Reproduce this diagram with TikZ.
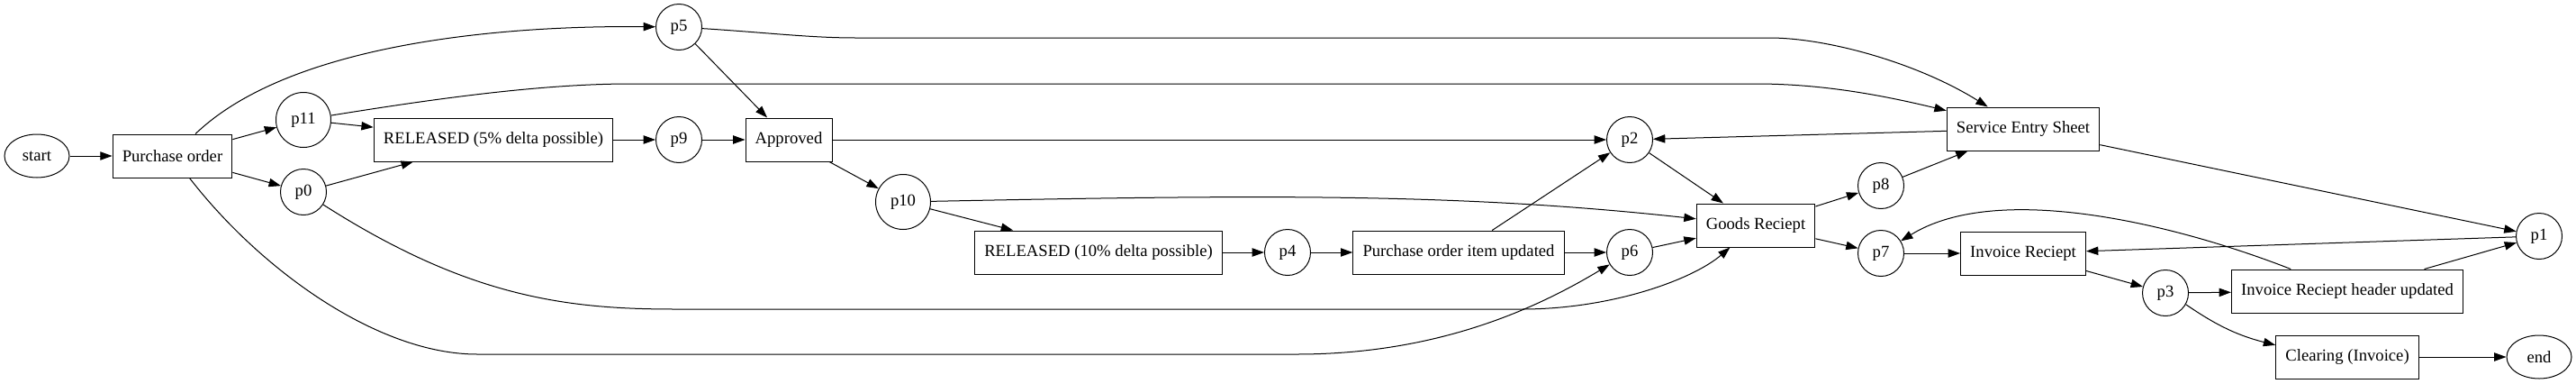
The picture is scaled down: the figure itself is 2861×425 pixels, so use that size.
\documentclass[tikz,border=0pt]{standalone}
\usepackage{fontspec}
\setmainfont{Liberation Serif}
\usetikzlibrary{positioning,shapes.geometric,arrows.meta}

\begin{document}
\begin{tikzpicture}[x=0.75pt,y=-0.75pt,font=\fontsize{14pt}{16pt}\selectfont]
	\tikzstyle{activity} = [rectangle, minimum height=36pt, inner xsep=8pt, text centered, draw=black, line width=0.75pt]
	\tikzstyle{place} = [circle, minimum size=38.25pt, inner sep=0pt, draw=black, line width=0.75pt]
	\tikzstyle{widePlace} = [place, minimum size=45.75pt]
	\tikzstyle{terminal} = [ellipse, minimum width=54pt, minimum height=36pt, inner sep=0pt, draw=black, line width=0.75pt]
	\tikzstyle{flow} = [line width=0.75pt,->,>={Triangle[length=10pt,width=7pt]}]
	
	\useasboundingbox (0,0) rectangle (2861,425);
	
	\node (startEvent) [terminal] at (41,173) {start};
	\node (purchaseOrder) [activity] at (191.5,173) {Purchase order};
	\node (p11) [widePlace] at (337,133) {p11};
	\node (p0) [place] at (337,213) {p0};
	\node (released5) [activity] at (548,155) {RELEASED (5\% delta possible)};
	\node (p5) [place] at (754,30) {p5};
	\node (p9) [place] at (754,155) {p9};
	\node (approved) [activity] at (876,155) {Approved};
	\node (p10) [widePlace] at (1003,224) {p10};
	\node (released10) [activity] at (1220,280) {RELEASED (10\% delta possible)};
	\node (p4) [place] at (1430,280) {p4};
	\node (poItemUpdated) [activity] at (1620,280) {Purchase order item updated};
	\node (p2) [place] at (1810,155) {p2};
	\node (p6) [place] at (1810,280) {p6};
	\node (goodsReciept) [activity] at (1950,250) {Goods Reciept};
	\node (p8) [place] at (2089,206) {p8};
	\node (p7) [place] at (2089,281) {p7};
	\node (serviceEntrySheet) [activity] at (2247,143) {Service Entry Sheet};
	\node (invoiceReciept) [activity] at (2247,281) {Invoice Reciept};
	\node (p3) [place] at (2405,325) {p3};
	\node (invoiceHeaderUpdated) [activity] at (2607,323) {Invoice Reciept header updated};
	\node (clearingInvoice) [activity] at (2607,396) {Clearing (Invoice)};
	\node (p1) [place] at (2820,262) {p1};
	\node (endEvent) [terminal] at (2820,396) {end};
	
	\coordinate (topArcA) at (950,42);
	\coordinate (topArcB) at (1965,42);
	\coordinate (upperArcA) at (700,93);
	\coordinate (upperArcB) at (1950,93);
	\coordinate (midArcA) at (750,343);
	\coordinate (midArcB) at (1690,343);
	\coordinate (lowArcA) at (530,393);
	\coordinate (lowArcB) at (1440,393);
	
	\draw [flow] (startEvent) -- (purchaseOrder);
	\draw [flow] (purchaseOrder) -- (p11);
	\draw [flow] (purchaseOrder) -- (p0);
	\draw [flow] (purchaseOrder) .. controls (320,50) and (550,28) .. (p5);
	\draw [flow] (purchaseOrder) .. controls (290,300) and (420,393) .. (lowArcA) -- (lowArcB) .. controls (1600,393) and (1710,340) .. (p6);
	
	\draw [flow] (p11) -- (released5);
	\draw [flow] (p11) .. controls (480,110) and (600,93) .. (upperArcA) -- (upperArcB) .. controls (2030,93) and (2100,108) .. (serviceEntrySheet);
	\draw [flow] (p0) -- (released5);
	\draw [flow] (p0) .. controls (520,330) and (630,343) .. (midArcA) -- (midArcB) .. controls (1790,343) and (1880,310) .. (goodsReciept);
	
	\draw [flow] (released5) -- (p9);
	\draw [flow] (p9) -- (approved);
	\draw [flow] (p5) -- (approved);
	\draw [flow] (p5) .. controls (850,36) and (900,42) .. (topArcA) -- (topArcB) .. controls (2030,42) and (2130,70) .. (serviceEntrySheet);
	
	\draw [flow] (approved) -- (p2);
	\draw [flow] (approved) -- (p10);
	\draw [flow] (p10) -- (released10);
	\draw [flow] (p10) .. controls (1400,216) and (1620,214) .. (goodsReciept);
	\draw [flow] (released10) -- (p4);
	\draw [flow] (p4) -- (poItemUpdated);
	\draw [flow] (poItemUpdated) -- (p2);
	\draw [flow] (poItemUpdated) -- (p6);
	
	\draw [flow] (p2) -- (goodsReciept);
	\draw [flow] (p6) -- (goodsReciept);
	\draw [flow] (goodsReciept) -- (p8);
	\draw [flow] (goodsReciept) -- (p7);
	\draw [flow] (p8) -- (serviceEntrySheet);
	\draw [flow] (serviceEntrySheet) -- (p2);
	\draw [flow] (serviceEntrySheet) -- (p1);
	
	\draw [flow] (p7) -- (invoiceReciept);
	\draw [flow] (p1) -- (invoiceReciept);
	\draw [flow] (invoiceReciept) -- (p3);
	\draw [flow] (p3) -- (invoiceHeaderUpdated);
	\draw [flow] (p3) to[bend right=10] (clearingInvoice);
	\draw [flow] (invoiceHeaderUpdated) -- (p1);
	\draw [flow] (invoiceHeaderUpdated) .. controls (2420,250) and (2220,200) .. (p7);
	\draw [flow] (clearingInvoice) -- (endEvent);
	
\end{tikzpicture}
\end{document}
